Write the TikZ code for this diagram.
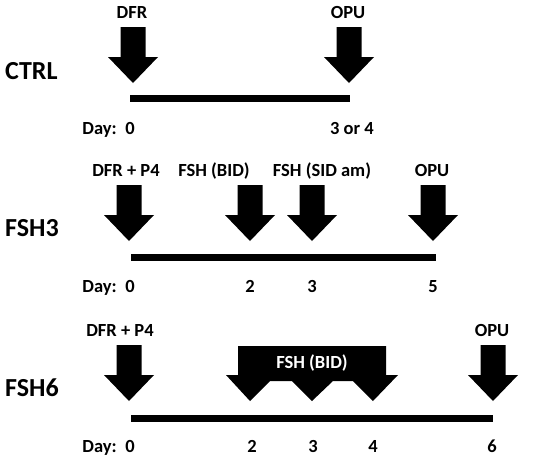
\documentclass[tikz,border=0pt]{standalone}
\usepackage{fontspec}
\setmainfont{Carlito}
\usepackage{tikz}
\usetikzlibrary{calc}

\tikzset{
  lbl/.style={font=\bfseries\fontsize{18.5}{20}\selectfont,inner sep=0pt},
  grp/.style={font=\bfseries\fontsize{26}{28}\selectfont,inner sep=0pt},
  bar/.style={line width=7pt},
  pics/dnarrow/.style={code={
    \fill (-12.5,-56) -- (12.5,-56) -- (12.5,-26) -- (25,-26) -- (0,0)
      -- (-25,-26) -- (-12.5,-26) -- cycle;}}
}

\begin{document}
\begin{tikzpicture}[x=1pt,y=-1pt]
  \useasboundingbox (0,0) rectangle (550,461);
  % CTRL
  \node[grp,anchor=base west] (ctrl) at (5,79) {CTRL};
  \node[lbl,anchor=base] (dfr1) at (132,18) {DFR};
  \node[lbl,anchor=base] (opu1) at (348,18) {OPU};
  \pic at (133,83) {dnarrow};
  \pic at (349,83) {dnarrow};
  \coordinate (s1) at (130,98);
  \coordinate (e1) at (350,98);
  \draw[bar] (s1) -- (e1);
  \node[lbl,anchor=base] (d1a) at (130,134) {0};
  \node[lbl,anchor=base east] (day1) at (117,134) {Day:};
  \node[lbl,anchor=base] (d1b) at (352,134) {3 or 4};
  % FSH3
  \node[grp,anchor=base west] (fsh3) at (5,236) {FSH3};
  \node[lbl,anchor=base] (dfr2) at (126,176) {DFR + P4};
  \node[lbl,anchor=base] (bid2) at (214,176) {FSH (BID)};
  \node[lbl,anchor=base] (sid2) at (322,176) {FSH (SID am)};
  \node[lbl,anchor=base] (opu2) at (432,176) {OPU};
  \foreach \t in {129,250,312,433}
    \pic at (\t,241) {dnarrow};
  \coordinate (s2) at (131,257);
  \coordinate (e2) at (436,257);
  \draw[bar] (s2) -- (e2);
  \node[lbl,anchor=base east] (day2) at (117,292) {Day:};
  \node[lbl,anchor=base] (d2a) at (130,292) {0};
  \node[lbl,anchor=base] (d2b) at (250,292) {2};
  \node[lbl,anchor=base] (d2c) at (312,292) {3};
  \node[lbl,anchor=base] (d2d) at (433,292) {5};
  % FSH6
  \node[grp,anchor=base west] (fsh6) at (5,396) {FSH6};
  \node[lbl,anchor=base] (dfr3) at (120,336) {DFR + P4};
  \node[lbl,anchor=base] (opu3) at (492,336) {OPU};
  \pic at (129,401) {dnarrow};
  \pic at (493,401) {dnarrow};
  \fill (238,346) -- (386,346) -- (386,375) -- (398,375) -- (373,401)
    -- (353,381) -- (333,381) -- (312,401) -- (292,381) -- (270,381)
    -- (250,401) -- (226,375) -- (238,375) -- cycle;
  \node[lbl,anchor=base,white] (bid3) at (312,368) {FSH (BID)};
  \coordinate (s3) at (131,418);
  \coordinate (e3) at (493,418);
  \draw[bar] (s3) -- (e3);
  \node[lbl,anchor=base east] (day3) at (117,452) {Day:};
  \node[lbl,anchor=base] (d3a) at (130,452) {0};
  \node[lbl,anchor=base] (d3b) at (252,452) {2};
  \node[lbl,anchor=base] (d3c) at (313,452) {3};
  \node[lbl,anchor=base] (d3d) at (373,452) {4};
  \node[lbl,anchor=base] (d3e) at (492,452) {6};
\end{tikzpicture}
\end{document}
